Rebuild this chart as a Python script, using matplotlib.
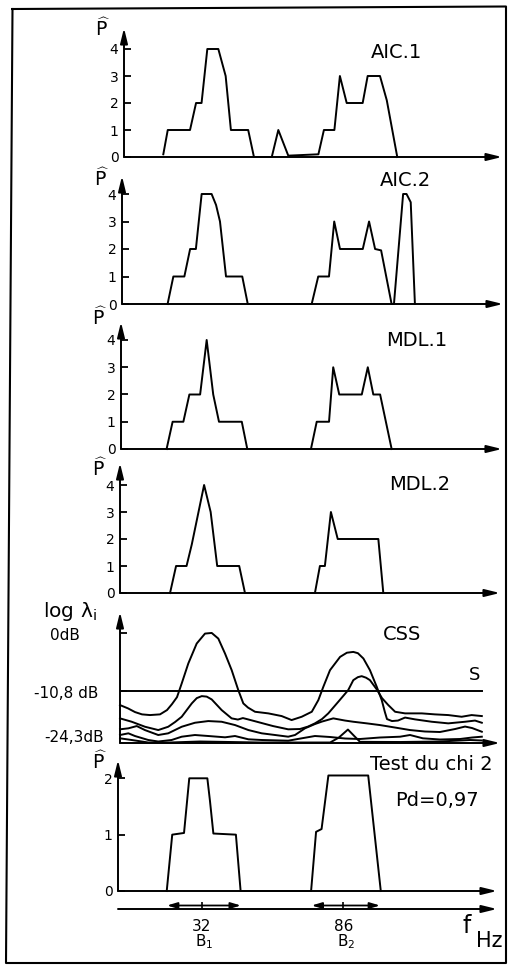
import numpy as np
import matplotlib.pyplot as plt
from matplotlib.lines import Line2D

plt.rcParams['font.family'] = ['DejaVu Sans']
plt.rcParams['mathtext.fontset'] = 'dejavusans'

W, H = 508, 966
HZ_PX = 2.62  # pixels per Hz along every frequency axis

# --- estimated model order P^ versus frequency (Hz) ---
f_aic1 = [15.0, 16.7, 25.2, 27.5, 29.6, 31.8, 36.0, 38.8, 40.8, 47.4, 49.6, 56.4, 58.9, 62.7,
          74.2, 76.3, 80.3, 82.4, 85.0, 91.1, 93.0, 97.7, 100.3, 104.3]
p_aic1 = [0.1, 1, 1, 2, 2, 4, 4, 3, 1, 1, 0, 0, 1, 0.05,
          0.1, 1, 1, 3, 2, 2, 3, 3, 2.1, 0]

f_aic2 = [17.4, 19.6, 23.8, 26.0, 28.2, 30.4, 34.2, 35.9, 37.4, 39.7, 45.9, 48.0,
          72.4, 74.9, 79.0, 81.0, 83.2, 91.9, 94.3, 96.6, 98.9, 102.9, 103.8, 107.3, 108.6, 110.2, 111.8]
p_aic2 = [0, 1, 1, 2, 2, 4, 4, 3.6, 3, 1, 1, 0,
          0, 1, 1, 3, 2, 2, 3, 2, 1.95, 0, 0, 4, 4, 3.7, 0]

f_mdl1 = [17.4, 19.7, 23.8, 26.1, 30.2, 32.7, 35.2, 37.4, 46.1, 48.2,
          72.5, 74.7, 79.4, 81.0, 83.3, 91.9, 94.2, 96.3, 98.9, 103.3]
p_mdl1 = [0, 1, 1, 2, 2, 4, 2, 1, 1, 0,
          0, 1, 1, 3, 2, 2, 3, 2, 2, 0]

f_mdl2 = [19.1, 21.4, 25.4, 27.4, 32.1, 34.6, 37.1, 45.5, 47.7,
          74.4, 76.3, 78.2, 80.5, 83.1, 98.6, 100.5]
p_mdl2 = [0, 1, 1, 1.8, 4, 3, 1, 1, 0,
          0, 1, 1, 3, 2, 2, 0]

f_chi2 = [18.6, 20.7, 25.2, 27.2, 34.1, 35.1, 36.4, 45.0, 46.8,
          73.7, 75.6, 77.7, 80.3, 95.5, 100.3]
p_chi2 = [0, 1, 1.03, 2, 2, 1.6, 1.02, 1, 0,
          0, 1.05, 1.1, 2.05, 2.05, 0]

# --- CSS eigenvalues log(lambda_i) in dB ---
css_f_1 = [0, 3.05, 5.73, 8.40, 11.45, 15.27, 17.94, 19.85, 21.76, 23.55, 26.07, 29.27, 32.44, 35.0,
           37.52, 40.08, 42.63, 45.15, 47.06, 48.85, 51.53, 56.6, 61.7, 65.5, 69.35, 73.2, 75.7, 77.6,
           80.15, 84.0, 86.6, 89.05, 90.8, 92.9, 95.4, 98.0, 99.9, 101.1, 101.9, 103.8, 106.1, 108.8,
           112.6, 119.0, 125.3, 131.7, 135.5, 138.1]
css_db_1 = [-14.43, -15.29, -16.25, -16.85, -17.03, -16.85, -15.73, -14.17, -12.36, -9.37, -5.64, -1.92, -0.06, 0.06,
            -0.99, -3.78, -6.89, -10.61, -13.99, -15.08, -16.17, -16.59, -17.29, -18.33, -17.47, -16.17, -13.14, -10.0,
            -6.89, -4.41, -3.63, -3.48, -3.72, -4.71, -6.89, -10.0, -13.14, -16.25, -18.07, -18.59, -18.46, -17.68,
            -18.15, -18.77, -19.19, -18.77, -18.46, -19.03]

css_f_2 = [0, 4.47, 9.54, 14.6, 18.4, 21.0, 23.55, 27.4, 29.3, 31.2, 33.1, 35.0, 38.8, 42.6, 45.0,
           46.9, 48.85, 53.4, 58.4, 64.2, 68.7, 71.8, 74.4, 77.1, 79.5, 83.3, 87.1, 89.05, 90.8, 92.25,
           93.9, 95.4, 98.0, 100.0, 102.4, 105.0, 108.8, 115.2, 120.2, 125.3, 130.4, 134.2, 138.1]
css_db_2 = [-17.89, -18.77, -20.07, -20.93, -20.07, -18.85, -17.47, -13.99, -12.62, -12.1, -12.23, -12.96, -15.73, -17.89, -18.2,
            -17.81, -18.15, -18.98, -19.89, -20.74, -20.66, -20.02, -19.19, -18.07, -16.59, -13.58, -10.61, -8.75, -8.19, -8.01,
            -8.29, -8.75, -10.48, -12.62, -14.43, -16.17, -16.59, -16.59, -16.85, -17.03, -17.47, -17.03, -17.29]

css_f_3 = [0, 3.2, 6.4, 9.5, 14.6, 18.4, 23.55, 28.6, 33.7, 38.8, 43.9, 49.0, 54.1, 59.2, 64.2, 66.8,
           70.6, 74.4, 77.1, 81.4, 85.9, 89.05, 94.2, 99.2, 105.0, 110.7, 116.4, 122.1, 127.9, 131.7, 134.4, 138.1]
css_db_3 = [-20.74, -20.48, -19.89, -20.93, -22.22, -21.78, -20.07, -19.03, -18.59, -18.77, -19.63, -20.93, -21.78, -22.22, -22.66, -22.22,
            -20.48, -19.37, -18.72, -17.89, -18.46, -18.77, -19.19, -19.63, -20.28, -20.93, -21.31, -21.44, -20.66, -20.02, -20.41, -21.37]

css_f_4 = [0, 3.2, 5.7, 10.8, 14.6, 19.7, 23.55, 28.6, 33.7, 40.1, 43.9, 49.0, 54.1, 64.2,
           69.35, 74.4, 80.2, 85.9, 91.6, 99.2, 106.9, 110.7, 115.6, 122.1, 129.8, 134.4, 138.1]
css_db_4 = [-22.22, -21.78, -22.48, -23.52, -23.91, -23.52, -22.66, -22.22, -22.48, -22.82, -22.48, -23.34, -23.52, -23.7,
            -23.08, -22.48, -22.74, -23.13, -23.26, -22.87, -22.66, -22.22, -23.08, -23.39, -23.26, -22.87, -22.66]

css_f_5 = [0, 4.47, 10.8, 19.1, 30.5, 42.0, 53.4, 68.7, 80.2, 83.5, 87.0, 89.0, 91.6, 106.9, 122.1, 133.6, 138.1]
css_db_5 = [-23.08, -23.52, -24.17, -24.17, -23.91, -24.04, -24.17, -24.17, -24.17, -22.9, -20.8, -22.2, -24.0, -24.04, -23.91, -23.52, -23.65]

css_threshold_db = -10.8
css_ticks_db = [0, -10.8, -24.3]
css_tick_labels = ['0dB', '-10,8 dB', '-24,3dB']

band_lo = [18.7, 73.9]
band_hi = [46.9, 100.0]
band_center = [32, 86]
band_names = [r'$\mathrm{B}_1$', r'$\mathrm{B}_2$']

# piecewise-linear log(lambda) axis: knots in dB and their heights
db_knots = [-40.0, -24.3, -10.8, 0.0, 20.0]
h_knots = [-60.5, 0.0, 52.0, 110.0, 217.4]


def db_fwd(v):
    return np.interp(v, db_knots, h_knots)


def db_inv(v):
    return np.interp(v, h_knots, db_knots)


fig = plt.figure(figsize=(W / 100, H / 100), dpi=100)


def px(x, y):
    return x / W, 1 - y / H


ARROW = dict(arrowstyle='-|>,head_length=0.9,head_width=0.22', color='black',
             lw=1.4, shrinkA=0, shrinkB=0)


def make_axes(x0, y0, x1, ytop):
    ax = fig.add_axes([x0 / W, 1 - y0 / H, (x1 - x0) / W, (y0 - ytop) / H])
    ax.set_xlim(0, (x1 - x0) / HZ_PX)
    ax.patch.set_visible(False)
    for s in ax.spines.values():
        s.set_visible(False)
    ax.tick_params(axis='x', bottom=False, labelbottom=False)
    ax.tick_params(axis='y', direction='in', length=5, width=1.3, pad=4, labelsize=10)
    ax.annotate('', xy=(1, 0), xytext=(0, 0), xycoords='axes fraction',
                arrowprops=ARROW, annotation_clip=False)
    ax.annotate('', xy=(0, 1), xytext=(0, 0), xycoords='axes fraction',
                arrowprops=ARROW, annotation_clip=False)
    return ax


# order-estimate panels: (x0, y0, x1, ytop, px per unit)
panels = [
    (f_aic1, p_aic1, 'AIC.1', (124, 157, 502, 28, 27.0), (396, 52), (103, 36)),
    (f_aic2, p_aic2, 'AIC.2', (122, 304, 503, 176, 27.5), (405, 180), (102, 186)),
    (f_mdl1, p_mdl1, 'MDL.1', (121, 449, 502, 322, 27.25), (417, 341), (100, 325)),
    (f_mdl2, p_mdl2, 'MDL.2', (120, 593, 500, 463, 27.0), (420, 484), (100, 476)),
]
hat_p = r'$\widehat{\mathrm{P}}$'
for f, p, name, (x0, y0, x1, ytop, unit), title_xy, hat_xy in panels:
    ax = make_axes(x0, y0, x1, ytop)
    ax.set_ylim(0, (y0 - ytop) / unit)
    ax.set_yticks(range(5))
    ax.plot(f, p, color='black', lw=1.4, clip_on=False)
    fig.text(*px(*title_xy), name, fontsize=14, ha='center', va='center')
    fig.text(*px(*hat_xy), hat_p, fontsize=13.5, ha='center', va='baseline')

# CSS panel
ax = make_axes(120, 743, 500, 612)
ax.set_yscale('function', functions=(db_fwd, db_inv))
ax.set_ylim(-24.3, 3.97)
ax.set_yticks(css_ticks_db[:2], labels=['', ''])
for f, db in [(css_f_1, css_db_1), (css_f_2, css_db_2), (css_f_3, css_db_3),
              (css_f_4, css_db_4), (css_f_5, css_db_5)]:
    ax.plot(f, db, color='black', lw=1.4, clip_on=False)
ax.plot([0, 138.1], [css_threshold_db] * 2, color='black', lw=1.4)
ax.text(135.5, -7.8, 'S', fontsize=13, ha='center', va='center')
fig.text(*px(402, 635), 'CSS', fontsize=14, ha='center', va='center')
fig.text(*px(43, 617), r'log $\mathrm{\lambda}_\mathrm{i}$', fontsize=14.5, ha='left', va='baseline')
fig.text(*px(65, 635), css_tick_labels[0], fontsize=11, ha='center', va='center')
fig.text(*px(98, 693), css_tick_labels[1], fontsize=11, ha='right', va='center')
fig.text(*px(104, 737), css_tick_labels[2], fontsize=11, ha='right', va='center')

# chi-square test panel
ax = make_axes(118, 891, 497, 760)
ax.set_ylim(0, (891 - 760) / 56.35)
ax.set_yticks(range(3))
ax.plot(f_chi2, p_chi2, color='black', lw=1.4, clip_on=False)
fig.text(*px(100, 769), hat_p, fontsize=13.5, ha='center', va='baseline')
fig.text(*px(431, 764), 'Test du chi 2', fontsize=14, ha='center', va='center')
fig.text(*px(437, 801), 'Pd=0,97', fontsize=14, ha='center', va='center')

# frequency axis with the two bands
axf = fig.add_axes([118 / W, 1 - 909 / H, 379 / W, 10 / H])
axf.set_xlim(0, 379 / HZ_PX)
axf.set_ylim(0, 1)
axf.patch.set_visible(False)
for s in axf.spines.values():
    s.set_visible(False)
axf.tick_params(axis='y', left=False, labelleft=False)
axf.set_xticks(band_center, labels=[str(c) for c in band_center])
axf.tick_params(axis='x', direction='in', length=5, width=1.2, pad=7, labelsize=11)
axf.annotate('', xy=(1, 0), xytext=(0, 0), xycoords='axes fraction',
             arrowprops=ARROW, annotation_clip=False)
band_arrow = dict(arrowstyle='<|-|>,head_length=0.6,head_width=0.18', color='black',
                  lw=1.3, shrinkA=0, shrinkB=0)
for lo, hi, c, name in zip(band_lo, band_hi, band_center, band_names):
    axf.annotate('', xy=(hi, 0.35), xytext=(lo, 0.35), xycoords='data',
                 arrowprops=band_arrow, annotation_clip=False)
    axf.text(c + 1, -3.3, name, fontsize=11, ha='center', va='center')
fig.text(*px(467, 926), 'f', fontsize=17, ha='center', va='center')
fig.text(*px(489, 941), 'Hz', fontsize=15, ha='center', va='center')

# outer frame
corners = [(12.5, 9), (506, 6.5), (506, 963), (6, 963), (12.5, 9)]
fig.add_artist(Line2D([c[0] / W for c in corners], [1 - c[1] / H for c in corners],
                      transform=fig.transFigure, color='black', lw=1.5))

fig.savefig('out.png', dpi=100)
